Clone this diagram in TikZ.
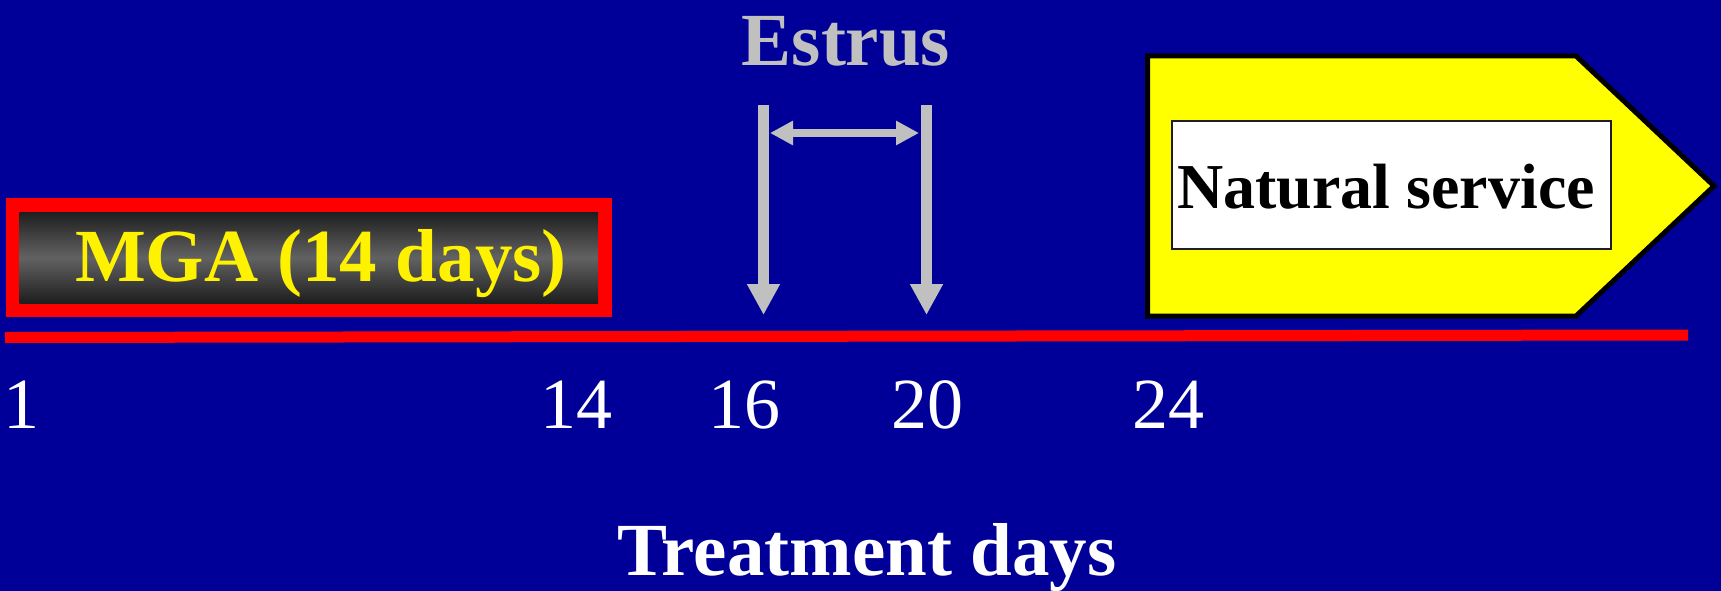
\documentclass[tikz,border=0pt]{standalone}
\usepackage{fontspec}
\setmainfont{Liberation Serif}
\usetikzlibrary{arrows.meta}
\definecolor{bgblue}{RGB}{0,0,153}
\definecolor{arrowgray}{RGB}{192,192,192}
\definecolor{darkg}{RGB}{30,30,30}
\definecolor{midg}{RGB}{98,98,98}
\definecolor{signyellow}{RGB}{255,255,0}
\tikzset{
  bigtext/.style={font=\bfseries\fontsize{75}{80}\selectfont, anchor=base, inner sep=0pt},
  numtext/.style={font=\fontsize{72}{80}\selectfont, text=white, anchor=base, inner sep=0pt},
  estarrow/.style={draw=arrowgray, line width=11pt, -{Triangle[length=31pt,width=31pt]}},
  spanarrow/.style={draw=arrowgray, line width=8pt, {Triangle[length=23pt,width=23pt]}-{Triangle[length=23pt,width=23pt]}}
}
\begin{document}
\begin{tikzpicture}[x=1pt,y=-1pt]
\fill[bgblue] (0,0) rectangle (1721,591);
\useasboundingbox (0,0) rectangle (1721,591);
% axis line
\coordinate (axL) at (5,337.5);
\coordinate (axR) at (1688,335);
\draw[red, line width=11pt] (axL) -- (axR);
% MGA box
\draw[red, line width=14pt] (12.5,205) rectangle (605,310);
\shade[top color=darkg, bottom color=darkg, middle color=midg] (19.5,212) rectangle (598,303);
\node[bigtext, text=yellow] (mga) at (321,281) {MGA (14 days)};
% Estrus
\node[bigtext, text=arrowgray] (estrus) at (846,66) {Estrus};
\coordinate (a1s) at (763.5,105);
\coordinate (a1e) at (763.5,315);
\coordinate (a2s) at (926.5,105);
\coordinate (a2e) at (926.5,315);
\coordinate (hL) at (770,133);
\coordinate (hR) at (919,133);
\draw[estarrow] (a1s) -- (a1e);
\draw[estarrow] (a2s) -- (a2e);
\draw[spanarrow] (hL) -- (hR);
% Natural service
\draw[black, line width=5pt, fill=signyellow, line join=miter]
  (1147.5,56) -- (1576,56) -- (1714,186) -- (1576,316) -- (1147.5,316) -- cycle;
\draw[fill=white, draw=darkg, line width=1.5pt] (1172,121) rectangle (1611,249);
\node[font=\bfseries\fontsize{64}{70}\selectfont, text=black, anchor=base, inner sep=0pt] (ns) at (1386,208) {Natural service};
% numbers
\node[numtext] (n1) at (21,428) {1};
\node[numtext] (n14) at (576,428) {14};
\node[numtext] (n16) at (744,428) {16};
\node[numtext] (n20) at (927,428) {20};
\node[numtext] (n24) at (1168,428) {24};
% title
\node[bigtext, text=white] (td) at (867,575) {Treatment days};
\end{tikzpicture}
\end{document}
